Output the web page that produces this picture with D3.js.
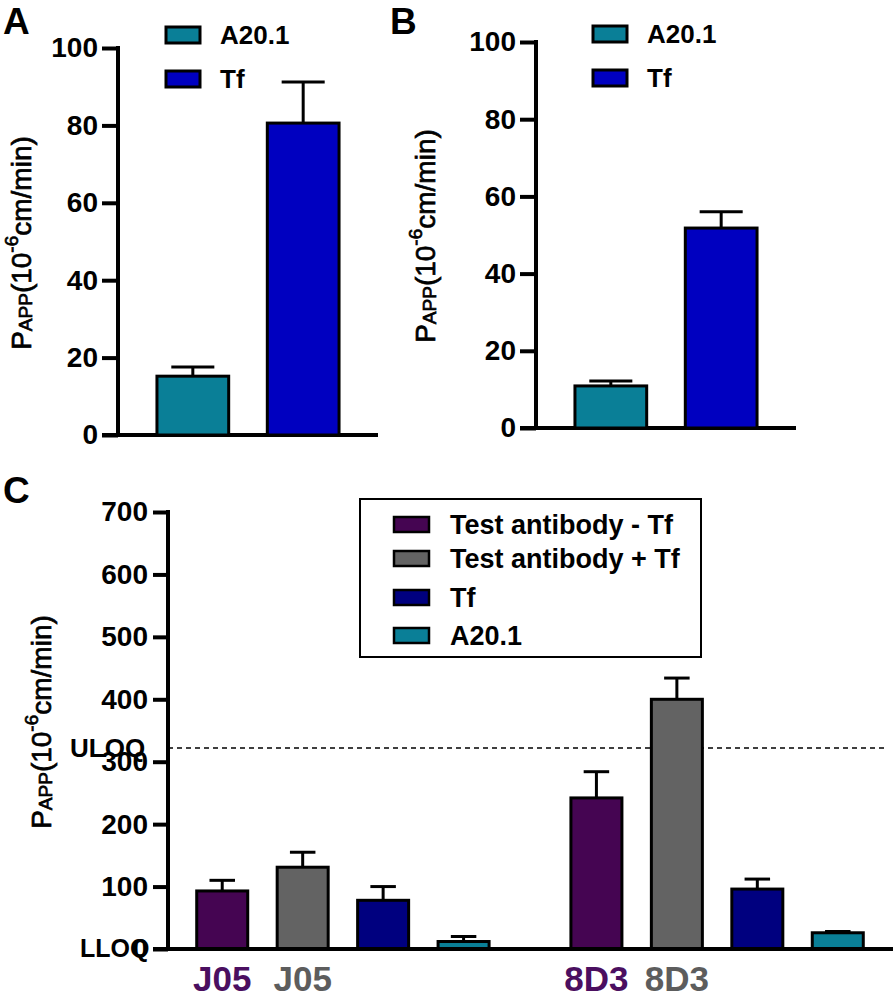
<!DOCTYPE html>
<html><head><meta charset="utf-8">
<script src="https://cdn.jsdelivr.net/npm/d3@7"></script>
<style>
html,body{margin:0;padding:0;background:#fff;}
svg{display:block;font-family:"Liberation Sans",Arial,Helvetica,sans-serif;}
</style></head>
<body>
<svg id="chart" width="896" height="997"></svg>
<script>
// ---------- DATA ----------
const abCategories = ["A20.1", "Tf"];
const panelAValues = [15.2, 80.6];
const panelAErrors = [2.4, 10.6];
const panelBValues = [10.9, 51.8];
const panelBErrors = [1.3, 4.2];
const abTicks = [0, 20, 40, 60, 80, 100];

const cGroups = ["J05", "8D3"];
const cSeries = ["Test antibody - Tf", "Test antibody + Tf", "Tf", "A20.1"];
const cValuesJ05 = [93, 131, 78, 12];
const cErrorsJ05 = [17, 24, 22, 8];
const cValues8D3 = [242, 400, 96, 26];
const cErrors8D3 = [42, 34, 16, 2];
const cTicks = [0, 100, 200, 300, 400, 500, 600, 700];
const uloqValue = 322;
const lloqValue = 0;

// ---------- STYLE ----------
const abColors = {"A20.1": "#0a7f97", "Tf": "#0000c0"};
const cColors = {"Test antibody - Tf": "#450552", "Test antibody + Tf": "#636363", "Tf": "#00007f", "A20.1": "#0a7f97"};
const groupLabelColors = ["#4b0f60", "#5d5d5d"];

const svg = d3.select("#chart");

function yLabel(g, cx, cy) {
  const t = g.append("text")
    .attr("transform", `translate(${cx},${cy}) rotate(-90)`)
    .attr("text-anchor", "middle")
    .attr("dominant-baseline", "central")
    .attr("font-size", 28)
    .attr("fill", "#000").attr("stroke", "#000").attr("stroke-width", 0.7);
  t.append("tspan").text("P");
  t.append("tspan").attr("font-size", 19).attr("dy", 4).text("APP");
  t.append("tspan").attr("dy", -4).text("(10");
  t.append("tspan").attr("font-size", 19).attr("dy", -10).text("-6");
  t.append("tspan").attr("dy", 10).text("cm/min)");
}

function styleAxis(sel, fontSize) {
  sel.select(".domain").remove();
  sel.selectAll(".tick line").attr("stroke", "#000").attr("stroke-width", 4);
  sel.selectAll(".tick text").attr("font-size", fontSize).attr("font-weight", "bold")
     .attr("fill", "#000").attr("font-family", "'Liberation Sans',Arial,sans-serif");
}

function smallPanel(opts) {
  const {x0, x1, y0, y1, values, errors, label, labelX, ylabX, ylabY, legX, legY} = opts;
  const g = svg.append("g");
  const y = d3.scaleLinear().domain([0, 100]).range([y0, y1]);
  const x = d3.scaleBand().domain(abCategories).range([x0, x1]).paddingInner(0.35).paddingOuter(0.353);

  const ax = g.append("g").attr("transform", `translate(${x0},0)`)
    .call(d3.axisLeft(y).tickValues(abTicks).tickSize(16).tickPadding(4).tickFormat(d3.format("d")));
  styleAxis(ax, 28);
  g.append("line").attr("x1", x0).attr("x2", x0).attr("y1", y1 - 2).attr("y2", y0 + 2)
    .attr("stroke", "#000").attr("stroke-width", 4);
  g.append("line").attr("x1", x0 - 16).attr("x2", x1).attr("y1", y0).attr("y2", y0)
    .attr("stroke", "#000").attr("stroke-width", 4);

  abCategories.forEach((c, i) => {
    const cx = x(c) + x.bandwidth() / 2;
    const cw = x.bandwidth() * 0.6;
    g.append("line").attr("x1", cx).attr("x2", cx).attr("y1", y(values[i])).attr("y2", y(values[i] + errors[i]))
      .attr("stroke", "#000").attr("stroke-width", 3);
    g.append("line").attr("x1", cx - cw / 2).attr("x2", cx + cw / 2)
      .attr("y1", y(values[i] + errors[i])).attr("y2", y(values[i] + errors[i]))
      .attr("stroke", "#000").attr("stroke-width", 3);
  });
  g.selectAll("rect.bar").data(abCategories).join("rect").attr("class", "bar")
    .attr("x", c => x(c)).attr("width", x.bandwidth())
    .attr("y", (c, i) => y(values[i])).attr("height", (c, i) => y0 - y(values[i]))
    .attr("fill", c => abColors[c]).attr("stroke", "#000").attr("stroke-width", 3);

  abCategories.forEach((c, i) => {
    const ly = legY + i * 44;
    g.append("rect").attr("x", legX).attr("y", ly).attr("width", 34).attr("height", 16)
      .attr("fill", abColors[c]).attr("stroke", "#000").attr("stroke-width", 3);
    g.append("text").attr("x", legX + 54).attr("y", ly + 17).attr("font-size", 26)
      .attr("font-weight", "bold").text(c);
  });

  g.append("text").attr("x", labelX).attr("y", 34).attr("font-size", 37).attr("font-weight", "bold").text(label);
  yLabel(g, ylabX, ylabY);
}

smallPanel({x0: 118, x1: 378, y0: 435, y1: 48, values: panelAValues, errors: panelAErrors,
  label: "A", labelX: 3, ylabX: 21, ylabY: 243, legX: 166, legY: 27});
smallPanel({x0: 536, x1: 796, y0: 428, y1: 42, values: panelBValues, errors: panelBErrors,
  label: "B", labelX: 390, ylabX: 425, ylabY: 236, legX: 593, legY: 26});

// ---------- PANEL C ----------
(function () {
  const g = svg.append("g");
  const x0 = 168, x1 = 893, y0 = 949, y1 = 512;
  const y = d3.scaleLinear().domain([0, 700]).range([y0, y1]);
  const xg = d3.scaleBand().domain(cGroups).range([182, 878]).paddingInner(0.14).paddingOuter(0);
  const xs = d3.scaleBand().domain(cSeries).range([0, xg.bandwidth()]).paddingInner(0.366).paddingOuter(0.183);
  const vals = {"J05": cValuesJ05, "8D3": cValues8D3};
  const errs = {"J05": cErrorsJ05, "8D3": cErrors8D3};

  const ax = g.append("g").attr("transform", `translate(${x0},0)`)
    .call(d3.axisLeft(y).tickValues(cTicks).tickSize(15).tickPadding(5).tickFormat(d3.format("d")));
  styleAxis(ax, 28);
  g.append("line").attr("x1", x0).attr("x2", x0).attr("y1", y1 - 2).attr("y2", y0 + 2)
    .attr("stroke", "#000").attr("stroke-width", 4);

  g.append("line").attr("x1", x0).attr("x2", 886).attr("y1", y(uloqValue)).attr("y2", y(uloqValue))
    .attr("stroke", "#000").attr("stroke-width", 1.5).attr("stroke-dasharray", "5,4");

  cGroups.forEach((grp, gi) => {
    cSeries.forEach((s, si) => {
      const bx = xg(grp) + xs(s);
      const bw = xs.bandwidth();
      const v = vals[grp][si], e = errs[grp][si];
      const cx = bx + bw / 2;
      g.append("line").attr("x1", cx).attr("x2", cx).attr("y1", y(v)).attr("y2", y(v + e))
        .attr("stroke", "#000").attr("stroke-width", 3);
      g.append("line").attr("x1", cx - bw * 0.25).attr("x2", cx + bw * 0.25).attr("y1", y(v + e)).attr("y2", y(v + e))
        .attr("stroke", "#000").attr("stroke-width", 3);
      g.append("rect").attr("x", bx).attr("width", bw).attr("y", y(v)).attr("height", y0 - y(v))
        .attr("fill", cColors[s]).attr("stroke", "#000").attr("stroke-width", 3);
    });
    [0, 1].forEach(si => {
      g.append("text").attr("x", xg(grp) + xs(cSeries[si]) + xs.bandwidth() / 2).attr("y", 991)
        .attr("text-anchor", "middle").attr("font-size", 35).attr("font-weight", "bold")
        .attr("fill", groupLabelColors[si]).text(grp);
    });
  });

  g.append("line").attr("x1", x0 - 15).attr("x2", x1).attr("y1", y0).attr("y2", y0)
    .attr("stroke", "#000").attr("stroke-width", 4);

  g.append("text").attr("x", 70).attr("y", y(uloqValue)).attr("dy", "0.35em").attr("font-size", 26)
    .attr("font-weight", "bold").text("ULOQ");
  g.append("text").attr("x", 80).attr("y", y(lloqValue)).attr("dy", "0.32em").attr("font-size", 25)
    .attr("font-weight", "bold").text("LLOQ");

  g.append("rect").attr("x", 360).attr("y", 499).attr("width", 341).attr("height", 158)
    .attr("fill", "#fff").attr("stroke", "#000").attr("stroke-width", 2);
  const legRowY = [525, 559, 598, 636];
  cSeries.forEach((s, i) => {
    g.append("rect").attr("x", 394).attr("y", legRowY[i] - 8).attr("width", 35).attr("height", 15)
      .attr("fill", cColors[s]).attr("stroke", "#000").attr("stroke-width", 2.5);
    g.append("text").attr("x", 450).attr("y", legRowY[i] + 9).attr("font-size", 27)
      .attr("font-weight", "bold").text(s);
  });

  g.append("text").attr("x", 3).attr("y", 503).attr("font-size", 37).attr("font-weight", "bold").text("C");
  yLabel(g, 41, 722);
})();
</script>
</body></html>
